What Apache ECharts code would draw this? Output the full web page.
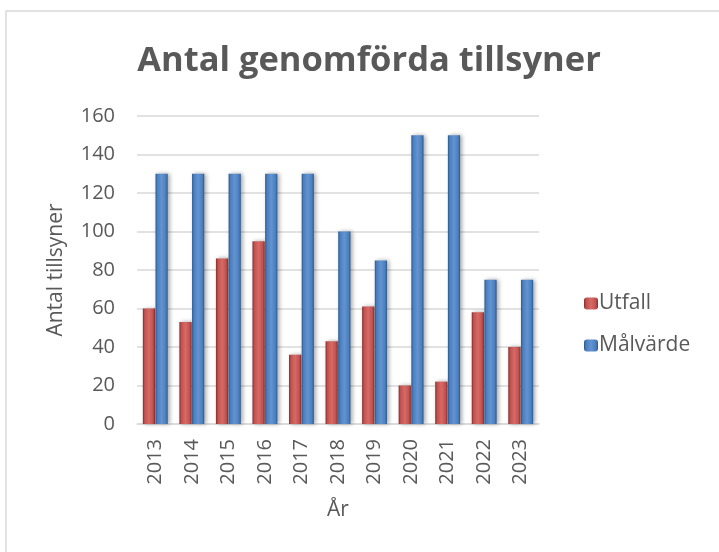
<!DOCTYPE html>
<html>
<head>
<meta charset="utf-8">
<script src="https://cdn.jsdelivr.net/npm/echarts@6/dist/echarts.min.js"></script>
<style>
html, body { margin: 0; padding: 0; background: #fff; }
#chart { width: 719px; height: 552px; }
</style>
</head>
<body>
<div id="chart"></div>
<script>
// data
var years = ['2013', '2014', '2015', '2016', '2017', '2018', '2019', '2020', '2021', '2022', '2023'];
var utfall = [60, 53, 86, 95, 36, 43, 61, 20, 22, 58, 40];
var malvarde = [130, 130, 130, 130, 130, 100, 85, 150, 150, 75, 75];
var yTicks = [0, 20, 40, 60, 80, 100, 120, 140, 160];

var textColor = '#595959';
var fontName = 'Open Sans';

// bevelled bars: darker edges, lighter middle
function bevel(edge, mid, light) {
    return new echarts.graphic.LinearGradient(0, 0, 1, 0, [
        {offset: 0, color: edge},
        {offset: 0.15, color: mid},
        {offset: 0.5, color: light},
        {offset: 0.85, color: mid},
        {offset: 1, color: edge}
    ]);
}

var myChart = echarts.init(document.getElementById('chart'));

var option = {
    backgroundColor: '#fff',
    animation: false,
    textStyle: {fontFamily: fontName, color: textColor},
    title: {
        text: 'Antal genomförda tillsyner',
        left: 364,
        textAlign: 'center',
        top: 39,
        textStyle: {fontFamily: fontName, fontWeight: 'bold', fontSize: 34.5, color: textColor}
    },
    graphic: [{
        type: 'rect',
        shape: {x: 6, y: 11, width: 800, height: 700},
        style: {fill: 'none', stroke: '#d9d9d9', lineWidth: 1.5},
        silent: true
    }],
    legend: {
        orient: 'vertical',
        left: 579,
        top: 288,
        itemWidth: 14,
        itemHeight: 12,
        itemGap: 21,
        textStyle: {fontFamily: fontName, fontSize: 21, color: textColor, padding: [0, 0, 0, -4]},
        data: ['Utfall', 'Målvärde']
    },
    grid: {left: 137, right: 180, top: 116, bottom: 128},
    xAxis: {
        type: 'category',
        data: years,
        name: 'År',
        nameLocation: 'middle',
        nameGap: 76,
        nameTextStyle: {fontFamily: fontName, fontSize: 21, color: textColor},
        axisLine: {lineStyle: {color: '#d9d9d9', width: 1.5}},
        axisTick: {show: false},
        axisLabel: {rotate: 90, margin: 15, fontFamily: fontName, fontSize: 20, color: textColor}
    },
    yAxis: {
        type: 'value',
        min: yTicks[0],
        max: yTicks[yTicks.length - 1],
        interval: 20,
        name: 'Antal tillsyner',
        nameLocation: 'middle',
        nameGap: 70,
        nameTextStyle: {fontFamily: fontName, fontSize: 21, color: textColor},
        axisLine: {show: false},
        axisTick: {show: false},
        axisLabel: {margin: 22, fontFamily: fontName, fontSize: 20, color: textColor},
        splitLine: {lineStyle: {color: '#d9d9d9', width: 1.5}}
    },
    series: [
        {
            name: 'Utfall',
            type: 'bar',
            data: utfall,
            barCategoryGap: '32%',
            barGap: '4%',
            itemStyle: {
                color: bevel('#842a28', '#c0504d', '#d66a67'),
                shadowColor: 'rgba(0,0,0,0.35)',
                shadowBlur: 4,
                shadowOffsetX: 2
            }
        },
        {
            name: 'Målvärde',
            type: 'bar',
            data: malvarde,
            itemStyle: {
                color: bevel('#2a5689', '#4a7ebf', '#6394d0'),
                shadowColor: 'rgba(0,0,0,0.35)',
                shadowBlur: 4,
                shadowOffsetX: 2
            }
        }
    ]
};

myChart.setOption(option, true);
</script>
</body>
</html>
